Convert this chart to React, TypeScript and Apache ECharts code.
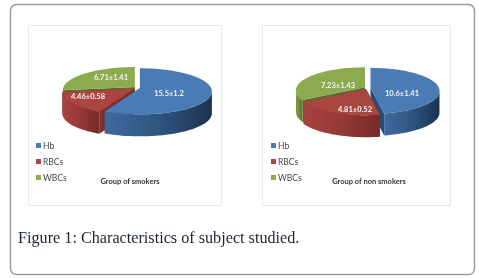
import React, { useEffect, useRef } from "react";
import * as echarts from "echarts";

const categories = ["Hb", "RBCs", "WBCs"];
const smokers = [15.5, 4.46, 6.71];
const nonSmokers = [10.6, 4.81, 7.23];
const smokerLabels = ["15.5±1.2", "4.46±0.58", "6.71±1.41"];
const nonSmokerLabels = ["10.6±1.41", "4.81±0.52", "7.23±1.43"];
const panelTitles = ["Group of smokers", "Group of non smokers"];
const caption = "Figure 1: Characteristics of subject studied.";

const topColors = ["#4a7bb5", "#aa4542", "#8cab4e"];
const wallStops = [
  ["#3f6b9f", "#2f5580", "#1c3350"],
  ["#a8423f", "#943936", "#742b29"],
  ["#7f9c44", "#6f8a3a", "#5d7630"],
];
const faceColors = ["#2c4a70", "#7d2f2c", "#55702c"];

const rad = (d: number) => (d * Math.PI) / 180;

function slicePie(values: number[], labels: string[], geo: any, drawOrder: number[]) {
  const total = values.reduce((a, b) => a + b, 0);
  const starts: number[] = [];
  let acc = 0;
  values.forEach((v) => {
    starts.push((acc / total) * 360);
    acc += v;
  });
  return drawOrder.map((i) => ({
    type: "custom",
    name: categories[i],
    coordinateSystem: "none",
    silent: true,
    z: 2,
    itemStyle: { color: topColors[i] },
    data: [[values[i]]],
    renderItem: (_p: any, api: any) => {
      const sweep = (api.value(0) / total) * 360;
      const a0 = starts[i];
      const a1 = a0 + sweep;
      const mid = rad((a0 + a1) / 2);
      const cx = geo.cx + geo.explode * Math.sin(mid);
      const cy = geo.cy - geo.explode * 0.45 * Math.cos(mid);
      const ay = cy - geo.apexUp;
      const pt = (a: number, dy = 0) => [
        cx + geo.rx * Math.sin(rad(a)),
        cy - geo.ry * Math.cos(rad(a)) + dy,
      ];
      const arc = (from: number, to: number, dy = 0) => {
        const out: string[] = [];
        const n = Math.max(2, Math.ceil(Math.abs(to - from) / 3));
        for (let k = 0; k <= n; k++) {
          const p = pt(from + ((to - from) * k) / n, dy);
          out.push(`L${p[0].toFixed(2)} ${p[1].toFixed(2)}`);
        }
        return out.join("");
      };
      const children: any[] = [];
      [a0, a1].forEach((a) => {
        const p = pt(a);
        children.push({
          type: "polygon",
          shape: {
            points: [[cx, ay], p, [p[0], p[1] + geo.depth], [cx, ay + geo.depth]],
          },
          style: { fill: faceColors[i] },
        });
      });
      const w0 = Math.max(a0, 90);
      const w1 = Math.min(a1, 270);
      if (w1 > w0) {
        const s = pt(w0);
        const d = `M${s[0].toFixed(2)} ${s[1].toFixed(2)}` + arc(w0, w1) + arc(w1, w0, geo.depth) + "Z";
        const stops = wallStops[i];
        children.push({
          type: "path",
          shape: { pathData: d },
          style: {
            fill: new echarts.graphic.LinearGradient(1, 0, 0, 0, [
              { offset: 0, color: stops[2] },
              { offset: 0.5, color: stops[1] },
              { offset: 1, color: stops[0] },
            ]),
          },
        });
      }
      const top = `M${cx.toFixed(2)} ${ay.toFixed(2)}` + arc(a0, a1) + "Z";
      children.push({
        type: "path",
        shape: { pathData: top },
        style: { fill: topColors[i] },
      });
      children.push({
        type: "text",
        style: {
          text: labels[i],
          x: geo.labels[i][0],
          y: geo.labels[i][1],
          fill: "#f4f6f8",
          font: "bold 7.5px Lato, sans-serif",
          align: "center",
          verticalAlign: "middle",
        },
      });
      return { type: "group", children };
    },
  }));
}

const geoL = { cx: 137, cy: 91, rx: 72, ry: 23, depth: 22, explode: 3, apexUp: 3, labels: [[169, 93], [88, 96], [111, 77]] };
const geoR = { cx: 367.5, cy: 91, rx: 69, ry: 23, depth: 22, explode: 3, apexUp: 3, labels: [[402, 93], [355, 109], [338, 85]] };

export default function App() {
  const ref = useRef<HTMLDivElement>(null);
  useEffect(() => {
    const chart = echarts.init(ref.current!, undefined, { renderer: "svg" });
    const legendBase = {
      orient: "vertical",
      data: categories,
      itemWidth: 5,
      itemHeight: 5,
      itemGap: 7,
      icon: "rect",
      selectedMode: false,
      textStyle: { fontSize: 8.5, color: "#444", fontFamily: "Lato, sans-serif", padding: [0, 0, 0, -3] },
    };
    chart.setOption({
      animation: false,
      legend: [
        { ...legendBase, left: 31, top: 136 },
        { ...legendBase, left: 266, top: 136 },
      ],
      graphic: [
        { type: "rect", z: 0, shape: { x: 10.5, y: 4.5, width: 464, height: 270, r: 6 }, style: { fill: "#fff", stroke: "#9a9a9a", lineWidth: 1.5 } },
        { type: "rect", z: 1, shape: { x: 28.5, y: 25.5, width: 193, height: 180 }, style: { fill: "#fff", stroke: "#e6e9ee", lineWidth: 1 } },
        { type: "rect", z: 1, shape: { x: 262.5, y: 25.5, width: 188, height: 180 }, style: { fill: "#fff", stroke: "#e6e9ee", lineWidth: 1 } },
        { type: "text", z: 3, style: { text: panelTitles[0], x: 130, y: 181, align: "center", verticalAlign: "middle", fill: "#333", font: "bold 7.5px Lato, sans-serif" } },
        { type: "text", z: 3, style: { text: panelTitles[1], x: 369, y: 181, align: "center", verticalAlign: "middle", fill: "#333", font: "bold 7.5px Lato, sans-serif" } },
        { type: "text", z: 3, style: { text: caption, x: 18, y: 238, align: "left", verticalAlign: "middle", fill: "#1c2430", font: "16.2px 'Liberation Serif', serif" } },
      ],
      series: [
        ...slicePie(smokers, smokerLabels, geoL, [2, 1, 0]),
        ...slicePie(nonSmokers, nonSmokerLabels, geoR, [2, 0, 1]),
      ],
    });
    return () => chart.dispose();
  }, []);
  return <div ref={ref} style={{ position: "fixed", left: 0, top: 0, width: 479, height: 278, filter: "blur(0.3px)" }} />;
}
